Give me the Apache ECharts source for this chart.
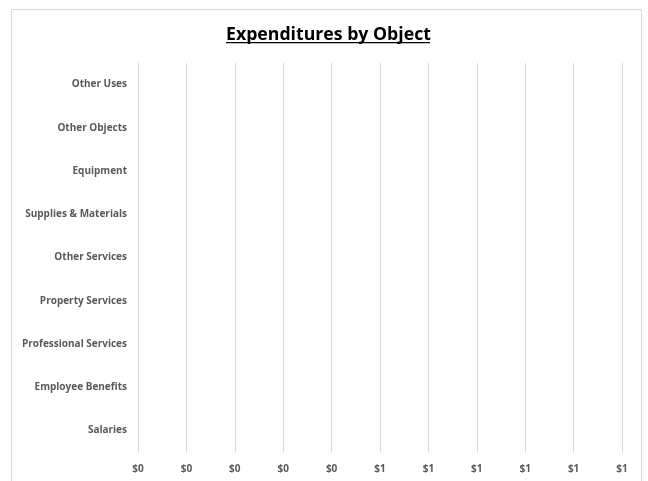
<!DOCTYPE html>
<html>
<head>
<meta charset="utf-8">
<script src="https://cdn.jsdelivr.net/npm/echarts@6/dist/echarts.min.js"></script>
<style>
html,body{margin:0;padding:0;background:#fff;}
#chart{width:648px;height:481px;}
</style>
</head>
<body>
<div id="chart"></div>
<script>
const titleText = 'Expenditures by Object';
const categories = ['Salaries','Employee Benefits','Professional Services','Property Services','Other Services','Supplies & Materials','Equipment','Other Objects','Other Uses'];
const values = [0,0,0,0,0,0,0,0,0];
const xMin = 0, xMax = 1, xStep = 0.1;

const chart = echarts.init(document.getElementById('chart'));
const font = '"Open Sans", "Noto Sans", sans-serif';
chart.setOption({
  animation: false,
  title: {
    text: titleText,
    left: 221,
    top: 21,
    textStyle: {fontFamily: font, fontSize: 17.7, fontWeight: 'bold', color: '#000'}
  },
  graphic: [
    {type: 'rect', left: 9, top: 7, shape: {width: 630, height: 480}, style: {fill: 'none', stroke: '#d9d9d9', lineWidth: 1}, silent: true},
    {type: 'rect', left: 226, top: 42, shape: {width: 204, height: 1.3}, style: {fill: '#000'}, silent: true}
  ],
  grid: {left: 138, right: 26, top: 63, bottom: 29, containLabel: false},
  xAxis: {
    type: 'value', min: xMin, max: xMax, interval: xStep,
    axisLine: {show: false}, axisTick: {show: false},
    splitLine: {show: true, showMinLine: true, showMaxLine: true, lineStyle: {color: '#d9d9d9', width: 1}},
    axisLabel: {
      margin: 12, fontFamily: font, fontSize: 10, fontWeight: 'bold', color: '#595959',
      formatter: v => '$' + Math.round(v)
    }
  },
  yAxis: {
    type: 'category', data: categories,
    axisLine: {show: true, onZero: false, lineStyle: {color: '#d9d9d9', width: 1}}, axisTick: {show: false},
    axisLabel: {margin: 11, padding: [3, 0, 0, 0], fontFamily: font, fontSize: 10, fontWeight: 'bold', color: '#595959'}
  },
  series: [{type: 'bar', data: values, itemStyle: {color: '#4472c4'}, barWidth: '60%'}]
});
</script>
</body>
</html>
